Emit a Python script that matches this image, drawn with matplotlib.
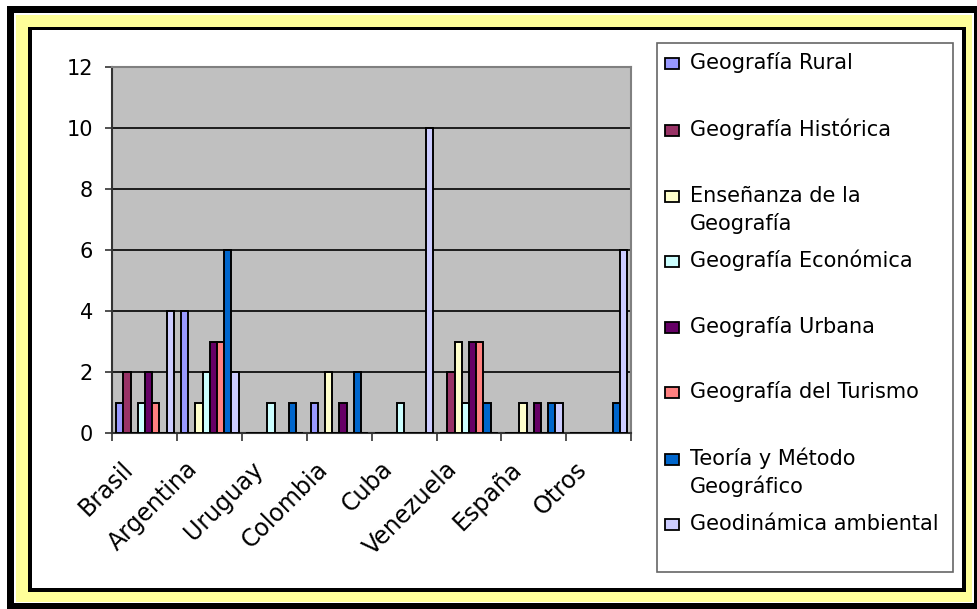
import matplotlib
matplotlib.use("Agg")
import matplotlib.pyplot as plt
import numpy as np
from matplotlib.patches import Rectangle
from matplotlib.transforms import ScaledTranslation

countries = ["Brasil", "Argentina", "Uruguay", "Colombia", "Cuba", "Venezuela", "España", "Otros"]
series_names = ["Geografía Rural", "Geografía Histórica", "Enseñanza de la\nGeografía",
                "Geografía Económica", "Geografía Urbana", "Geografía del Turismo",
                "Teoría y Método\nGeográfico", "Geodinámica ambiental"]
rural =       [1, 4, 0, 1, 0, 0, 0, 0]
historica =   [2, 0, 0, 0, 0, 2, 0, 0]
ensenanza =   [0, 1, 0, 2, 0, 3, 1, 0]
economica =   [1, 2, 1, 0, 1, 1, 0, 0]
urbana =      [2, 3, 0, 1, 0, 3, 1, 0]
turismo =     [1, 3, 0, 0, 0, 3, 0, 0]
teoria =      [0, 6, 1, 2, 0, 1, 1, 1]
geodinamica = [4, 2, 0, 0, 10, 0, 1, 6]
series_values = [rural, historica, ensenanza, economica, urbana, turismo, teoria, geodinamica]
colors = ["#9999FF", "#993366", "#FFFFCC", "#CCFFFF", "#660066", "#FF8080", "#0066CC", "#CCCCFF"]
yticks = [0, 2, 4, 6, 8, 10, 12]

FONT = "DejaVu Sans"
W, H = 978, 609
fig = plt.figure(figsize=(W / 100, H / 100), dpi=100)
fig.patch.set_facecolor("white")

def frect(x0, y0, x1, y1, color, z, ec="none", lw=0):
    # pixel coords (y from top) -> figure fraction
    r = Rectangle((x0 / W, 1 - y1 / H), (x1 - x0) / W, (y1 - y0) / H,
                  transform=fig.transFigure, facecolor=color,
                  edgecolor=ec, linewidth=lw, zorder=z)
    fig.patches.append(r)
    return r

frect(7, 6, 978, 609, "black", -10)
frect(14, 13, 974, 603, "white", -9)
frect(16, 15, 972, 602, "#FFFF99", -8)
frect(28, 27, 966, 592, "black", -7)
frect(32, 30, 962, 588, "white", -6)

ax = fig.add_axes([112.5 / W, 1 - 433 / H, (631 - 112.5) / W, (433 - 67) / H])
ax.set_facecolor("#C0C0C0")
ax.set_zorder(5)

n = len(series_values)
bw = 1.0 / (n + 1)
x = np.arange(len(countries))
for j, (vals, c) in enumerate(zip(series_values, colors)):
    ax.bar(x + bw * (j + 1), vals, width=bw, align="center", color=c,
           edgecolor="black", linewidth=1.4, zorder=3)

ax.set_xlim(0, len(countries))
ax.set_ylim(0, 12)
ax.set_yticks(yticks)
ax.set_yticklabels([str(v) for v in yticks], fontsize=15, family=FONT)
ax.yaxis.grid(True, color="black", linewidth=1.2, zorder=1)
ax.set_axisbelow(True)
ax.tick_params(axis="y", direction="out", length=5, width=1.2, color="#333333", pad=9)

ax.set_xticks(np.arange(len(countries) + 1))
ax.set_xticklabels([])
ax.tick_params(axis="x", which="major", direction="out", length=5.5, width=1.2, color="#333333")

off = ax.get_xaxis_transform() + ScaledTranslation(-24 / 100, -24 / 100, fig.dpi_scale_trans)
for xi, name in zip(x + 0.5, countries):
    ax.text(xi, 0, name, transform=off, fontsize=17, family=FONT, rotation=45,
            ha="right", va="top", rotation_mode="anchor", clip_on=False)

for s in ["top", "right"]:
    ax.spines[s].set_color("#808080")
    ax.spines[s].set_linewidth(1.5)
for s in ["left", "bottom"]:
    ax.spines[s].set_color("#333333")
    ax.spines[s].set_linewidth(1.5)

# legend box
frect(657, 43, 953, 572, "white", 1, ec="#666666", lw=1.2)
baselines = [69, 136, 202, 267, 333, 398, 465, 530]
for name, c, yb in zip(series_names, colors, baselines):
    frect(665, yb - 11, 679, yb, c, 2, ec="black", lw=1.3)
    for k, line in enumerate(name.split("\n")):
        fig.text(690 / W, 1 - (yb + 28 * k) / H, line, fontsize=15, family=FONT,
                 ha="left", va="baseline", zorder=3)

fig.savefig("out.png", dpi=100, facecolor=fig.get_facecolor())
